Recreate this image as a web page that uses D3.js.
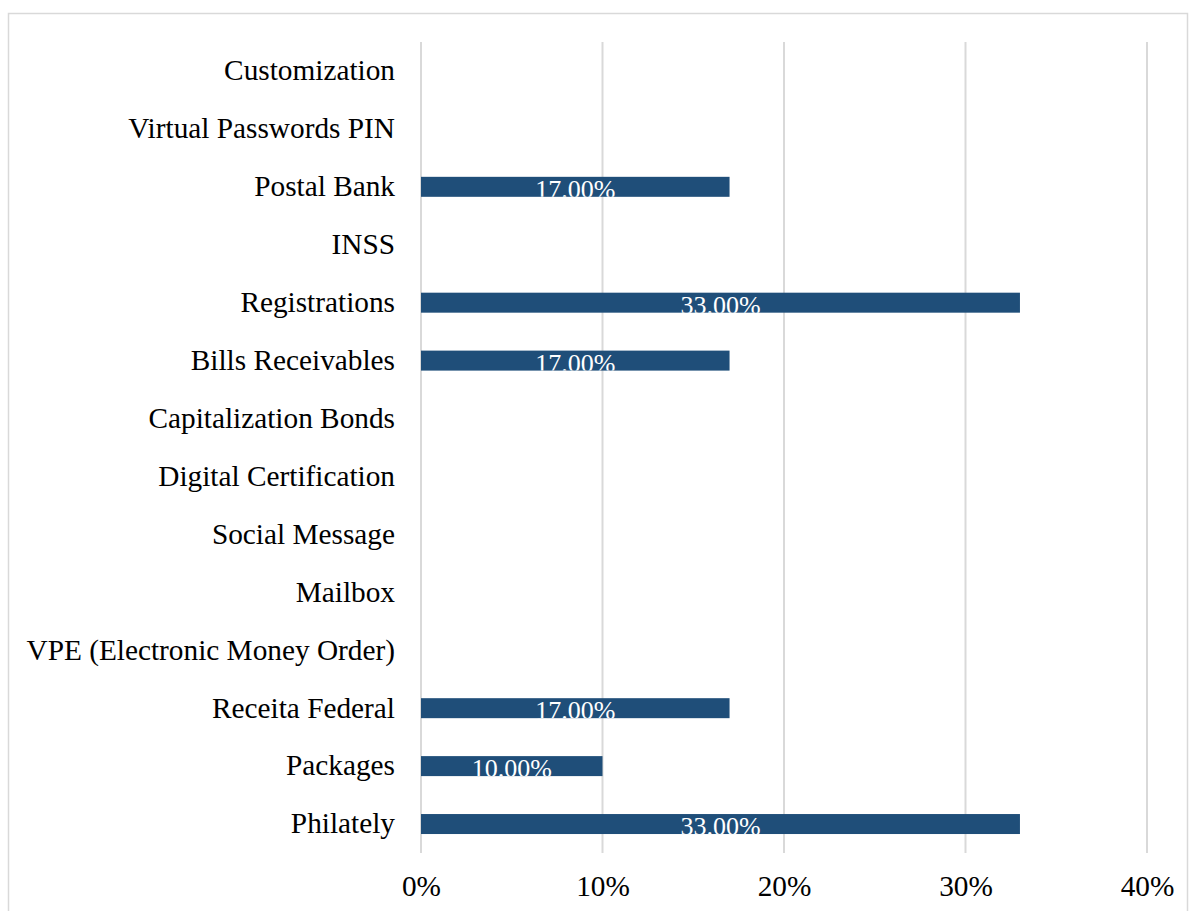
<!DOCTYPE html>
<html>
<head>
<meta charset="utf-8">
<script src="https://cdn.jsdelivr.net/npm/d3@7"></script>
<style>
  html, body { margin: 0; padding: 0; background: #fff; }
  svg { display: block; }
</style>
</head>
<body>
<svg id="chart" width="1189" height="911"></svg>
<script>
// Service categories, top to bottom as displayed
const categories = [
  "Customization",
  "Virtual Passwords PIN",
  "Postal Bank",
  "INSS",
  "Registrations",
  "Bills Receivables",
  "Capitalization Bonds",
  "Digital Certification",
  "Social Message",
  "Mailbox",
  "VPE (Electronic Money Order)",
  "Receita Federal",
  "Packages",
  "Philately"
];
// Share of each service (fraction)
const shares = [0, 0, 0.17, 0, 0.33, 0.17, 0, 0, 0, 0, 0, 0.17, 0.10, 0.33];
// Axis ticks
const tickValues = [0, 0.1, 0.2, 0.3, 0.4];

const FONT = "'Liberation Serif', 'Times New Roman', serif";
const svg = d3.select("#chart");

// Outer frame
svg.append("rect")
  .attr("x", 8.5).attr("y", 13.5)
  .attr("width", 1179).attr("height", 920)
  .attr("fill", "none")
  .attr("stroke", "#d9d9d9")
  .attr("stroke-width", 1.5);

const plotTop = 42, plotBottom = 853;
const x = d3.scaleLinear().domain([0, 0.4]).range([421, 1147]);
const y = d3.scaleBand()
  .domain(categories)
  .range([plotTop, plotBottom])
  .paddingInner(0.655)
  .paddingOuter(0.3275);

// Vertical gridlines
svg.append("g")
  .selectAll("line")
  .data(tickValues)
  .join("line")
  .attr("x1", d => x(d)).attr("x2", d => x(d))
  .attr("y1", plotTop).attr("y2", plotBottom)
  .attr("stroke", "#d9d9d9")
  .attr("stroke-width", 2);

// X axis tick labels
const xAxis = d3.axisBottom(x)
  .tickValues(tickValues)
  .tickFormat(d3.format(".0%"))
  .tickSize(0)
  .tickPadding(0);
const gx = svg.append("g")
  .attr("transform", `translate(0, ${plotBottom + 22})`)
  .call(xAxis);
gx.select(".domain").remove();
gx.selectAll("text")
  .attr("font-family", FONT)
  .attr("font-size", 29.3)
  .attr("fill", "#000")
  .attr("dy", "0.71em");

// Y axis category labels
const yAxis = d3.axisLeft(y).tickSize(0).tickPadding(26);
const gy = svg.append("g")
  .attr("transform", `translate(${x(0)}, 0)`)
  .call(yAxis);
gy.select(".domain").remove();
gy.selectAll("text")
  .attr("font-family", FONT)
  .attr("font-size", 29.3)
  .attr("fill", "#000");

const data = categories.map((c, i) => ({ cat: c, v: shares[i], i }))
  .filter(d => d.v > 0);

const defs = svg.append("defs");
defs.selectAll("clipPath")
  .data(data)
  .join("clipPath")
  .attr("id", d => "clip-" + d.i)
  .append("rect")
  .attr("x", x(0))
  .attr("y", d => y(d.cat))
  .attr("width", d => x(d.v) - x(0))
  .attr("height", y.bandwidth());

// Bars
svg.append("g")
  .selectAll("rect")
  .data(data)
  .join("rect")
  .attr("x", x(0))
  .attr("y", d => y(d.cat))
  .attr("width", d => x(d.v) - x(0))
  .attr("height", y.bandwidth())
  .attr("fill", "#1f4e79");

// Value labels, clipped to their bars
svg.append("g")
  .selectAll("text")
  .data(data)
  .join("text")
  .attr("clip-path", d => `url(#clip-${d.i})`)
  .attr("x", d => (x(0) + x(d.v)) / 2)
  .attr("y", d => y(d.cat) + y.bandwidth() / 2 + 11)
  .attr("text-anchor", "middle")
  .attr("font-family", FONT)
  .attr("font-size", 26)
  .attr("fill", "#fff")
  .text(d => d3.format(".2%")(d.v));
</script>
</body>
</html>
